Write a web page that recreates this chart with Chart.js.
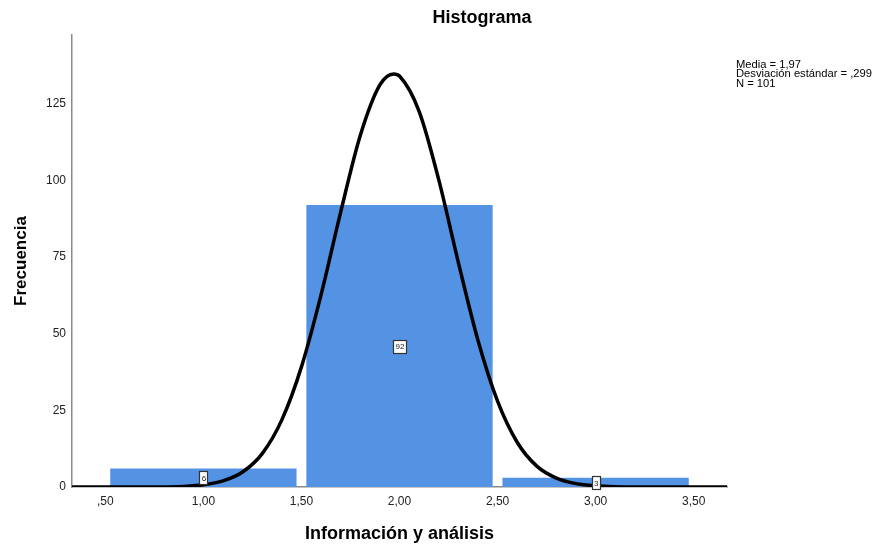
<!DOCTYPE html>
<html>
<head>
<meta charset="utf-8">
<script src="https://cdn.jsdelivr.net/npm/chart.js@4.4.0/dist/chart.umd.min.js"></script>
<style>
  html, body { margin: 0; padding: 0; background: #fff; }
  #wrap { width: 893px; height: 546px; }
</style>
</head>
<body>
<div id="wrap"><canvas id="hist" width="893" height="546"></canvas></div>
<script>
// histogram bins (bin centre) and counts
var binCenters = [1.0, 2.0, 3.0];
var binCounts = [6, 92, 3];

// normal curve
var curveX = [0.33, 0.5, 0.7, 0.9, 1.0, 1.1, 1.2, 1.3, 1.4, 1.5, 1.6, 1.7, 1.8, 1.9, 1.97, 2.0, 2.1, 2.2, 2.3, 2.4, 2.5, 2.6, 2.7, 2.8, 2.9, 3.0, 3.2, 3.4, 3.67];
var curveY = [0, 0, 0, 0.2, 0.7, 2.0, 4.9, 10.9, 21.9, 39.2, 62.7, 89.7, 114.7, 131.2, 134.8, 134.1, 122.6, 100.3, 73.3, 47.9, 28.0, 14.6, 6.8, 2.9, 1.1, 0.4, 0, 0, 0];

var xTicks = [0.5, 1.0, 1.5, 2.0, 2.5, 3.0, 3.5];
var yTicks = [0, 25, 50, 75, 100, 125];

var statsLines = ['Media = 1,97', 'Desviación estándar = ,299', 'N = 101'];

var FONT = '"Liberation Sans", Arial, sans-serif';

function fmtX(v) {
    var s = v.toFixed(2).replace('.', ',');
    if (s.charAt(0) === '0') s = s.substring(1);
    return s;
}

// value boxes in the middle of each bar + title + stats text
var extras = {
    id: 'extras',
    afterDatasetsDraw: function(chart) {
        var ctx = chart.ctx;
        var xs = chart.scales.x, ys = chart.scales.y;
        ctx.save();
        ctx.font = '8px ' + FONT;
        ctx.textAlign = 'center';
        ctx.textBaseline = 'middle';
        for (var i = 0; i < binCounts.length; i++) {
            var px = xs.getPixelForValue(binCenters[i]);
            var py = ys.getPixelForValue(binCounts[i] / 2);
            var w = Math.round(ctx.measureText(String(binCounts[i])).width + 4);
            var h = 13;
            var bx = Math.round(px - w / 2), by = Math.round(py - h / 2);
            ctx.fillStyle = '#fff';
            ctx.fillRect(bx, by, w, h);
            ctx.strokeStyle = '#333';
            ctx.lineWidth = 1.2;
            ctx.strokeRect(bx + 0.5, by + 0.5, w, h);
            ctx.fillStyle = '#222';
            ctx.fillText(String(binCounts[i]), px + 0.5, py + 1);
        }
        ctx.restore();
    },
    afterDraw: function(chart) {
        var ctx = chart.ctx;
        ctx.save();
        ctx.fillStyle = '#000';
        ctx.font = 'bold 18px ' + FONT;
        ctx.textAlign = 'center';
        ctx.textBaseline = 'middle';
        ctx.fillText('Histograma', 482, 18);
        ctx.font = '10px ' + FONT;
        ctx.textAlign = 'left';
        ctx.textBaseline = 'alphabetic';
        ctx.translate(736, 0);
        ctx.scale(1.12, 1);
        for (var i = 0; i < statsLines.length; i++) {
            ctx.fillText(statsLines[i], 0, 67.5 + i * 9.6);
        }
        ctx.restore();
    }
};

var config = {
    type: 'bar',
    data: {
        datasets: [{
            type: 'line',
            label: 'Normal',
            data: curveX.map(function(x, i) { return { x: x, y: curveY[i] }; }),
            borderColor: '#000',
            borderWidth: 3.5,
            pointRadius: 0,
            cubicInterpolationMode: 'monotone',
            fill: false,
            order: 0
        }, {
            type: 'bar',
            label: 'Frecuencia',
            data: binCenters.map(function(x, i) { return { x: x, y: binCounts[i] }; }),
            backgroundColor: '#5493E3',
            borderWidth: 0,
            barPercentage: 1.9,
            categoryPercentage: 1,
            order: 1
        }]
    },
    options: {
        responsive: false,
        animation: false,
        layout: { padding: { top: 35, right: 166, left: 0, bottom: 0 } },
        plugins: {
            legend: { display: false },
            title: { display: false },
            tooltip: { enabled: false }
        },
        scales: {
            x: {
                type: 'linear',
                offset: false,
                min: 0.33,
                max: 3.67,
                grid: { display: false, drawTicks: false },
                border: { display: true, color: '#8a8a8a', width: 1.5 },
                afterBuildTicks: function(s) { s.ticks = xTicks.map(function(v) { return { value: v }; }); },
                afterFit: function(s) { s.height = 59; },
                ticks: {
                    color: '#222',
                    padding: 7,
                    maxRotation: 0,
                    font: { family: FONT, size: 12 },
                    callback: function(v) { return fmtX(v); }
                },
                title: {
                    display: true,
                    text: 'Información y análisis',
                    color: '#000',
                    font: { family: FONT, size: 18, weight: 'bold' },
                    padding: { top: 0, bottom: 1 }
                }
            },
            y: {
                min: 0,
                max: 147.5,
                grid: { display: false, drawTicks: false },
                border: { display: true, color: '#8a8a8a', width: 1.5 },
                afterBuildTicks: function(s) { s.ticks = yTicks.map(function(v) { return { value: v }; }); },
                afterFit: function(s) { s.width = 72; },
                ticks: {
                    color: '#222',
                    padding: 6,
                    font: { family: FONT, size: 12 }
                },
                title: {
                    display: true,
                    text: 'Frecuencia',
                    color: '#000',
                    font: { family: FONT, size: 17, weight: 'bold' },
                    padding: { top: 11, bottom: 0 }
                }
            }
        }
    },
    plugins: [extras]
};

window.onload = function() {
    var ctx = document.getElementById('hist').getContext('2d');
    window.histChart = new Chart(ctx, config);
};
</script>
</body>
</html>
